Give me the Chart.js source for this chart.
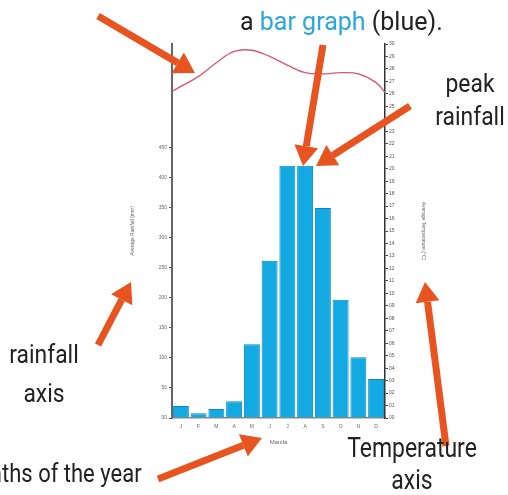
<!DOCTYPE html>
<html>
<head>
<meta charset="utf-8">
<script src="https://cdn.jsdelivr.net/npm/chart.js@4.4.0/dist/chart.umd.min.js"></script>
<style>
body { margin: 0; background: #fff; overflow: hidden; }
#wrap { position: relative; width: 508px; height: 495px; }
.note { position: absolute; font-family: Roboto, "Liberation Sans", Arial, sans-serif; color: #222; white-space: nowrap; text-align: center; }
</style>
</head>
<body>
<div id="wrap">
<canvas id="myChart" width="508" height="495"></canvas>
<div class="note" style="left:240px;top:9px;font-size:25px;line-height:25px;">a <span style="color:#2aa7de">bar graph</span> (blue).</div>
<div class="note" style="left:430px;top:67px;width:80px;font-size:26px;line-height:33px;transform:scaleX(0.88);">peak<br>rainfall</div>
<div class="note" style="left:4px;top:335px;width:80px;font-size:26px;line-height:39px;transform:scaleX(0.88);">rainfall<br>axis</div>
<div class="note" style="left:332px;top:432px;width:160px;font-size:28px;line-height:32px;transform:scaleX(0.82);">Temperature<br>axis</div>
<div class="note" style="right:366px;top:459px;font-size:25px;line-height:30px;text-align:right;transform:scaleX(0.88);transform-origin:right center;">months of the year</div>
</div>
<script>
// Manila climate
const months = ['J', 'F', 'M', 'A', 'M', 'J', 'J', 'A', 'S', 'O', 'N', 'D'];
const rainfall = [20, 8, 15, 28, 123, 262, 420, 420, 350, 197, 101, 65];
// temperature, from the left axis to the right axis
const tempX = [0, 0.5, 1.5, 2.5, 3.5, 4.5, 5.5, 6.5, 7.5, 8.5, 9.5, 10.5, 11.5, 12];
const temperature = [26.2, 26.6, 27.4, 28.5, 29.4, 29.5, 29.0, 28.3, 27.7, 27.6, 27.7, 27.6, 26.9, 26.1];
const rainTicks = [0, 50, 100, 150, 200, 250, 300, 350, 400, 450];

const arrows = [
	[98, 16, 195, 73],
	[323, 45, 303, 166],
	[410, 106, 316, 166],
	[98, 345, 131, 282],
	[158, 479, 262, 438],
	[446, 446, 425, 282]
];

const arrowPlugin = {
	id: 'arrows',
	afterDraw(chart) {
		const c = chart.ctx;
		c.save();
		c.strokeStyle = '#e8541f';
		c.fillStyle = '#e8541f';
		c.lineWidth = 7;
		arrows.forEach(function (a) {
			const ang = Math.atan2(a[3] - a[1], a[2] - a[0]);
			const hl = 20, hw = 12;
			const bx = a[2] - hl * Math.cos(ang), by = a[3] - hl * Math.sin(ang);
			c.beginPath();
			c.moveTo(a[0], a[1]);
			c.lineTo(bx, by);
			c.stroke();
			c.beginPath();
			c.moveTo(a[2], a[3]);
			c.lineTo(bx + hw * Math.sin(ang), by - hw * Math.cos(ang));
			c.lineTo(bx - hw * Math.sin(ang), by + hw * Math.cos(ang));
			c.closePath();
			c.fill();
		});
		c.restore();
	}
};

const tick = { size: 5, family: 'Arial' };

const ctx = document.getElementById('myChart').getContext('2d');
const myChart = new Chart(ctx, {
	type: 'bar',
	data: {
		labels: months,
		datasets: [{
			label: 'Rainfall',
			data: rainfall,
			backgroundColor: '#13aae4',
			borderColor: '#0b87bf',
			borderWidth: 1,
			grouped: false,
			barPercentage: 0.9,
			categoryPercentage: 1,
			yAxisID: 'y',
			order: 2
		},
		{
			type: 'line',
			label: 'Temperature',
			data: tempX.map(function (x, i) { return { x: x, y: temperature[i] }; }),
			borderColor: '#dc5670',
			borderWidth: 1.3,
			pointRadius: 0,
			tension: 0.4,
			xAxisID: 'x2',
			yAxisID: 'y2',
			order: 1
		}]
	},
	plugins: [arrowPlugin],
	options: {
		responsive: false,
		animation: false,
		layout: { padding: { left: 128, right: 80, top: 44, bottom: 47 } },
		plugins: { legend: { display: false }, tooltip: { enabled: false } },
		scales: {
			x: {
				offset: true,
				grid: { display: false, drawTicks: false },
				border: { color: '#888', width: 1.5 },
				ticks: { color: '#666', font: tick, padding: 6, maxRotation: 0 },
				title: { display: true, text: 'Manila', color: '#666', font: { size: 6, family: 'Arial' }, padding: 2 },
				afterFit: function (s) { s.height = 30; }
			},
			x2: { type: 'linear', display: false, offset: false, min: 0, max: 12 },
			y: {
				position: 'left',
				min: 0,
				max: 623,
				afterBuildTicks: function (s) { s.ticks = rainTicks.map(function (v) { return { value: v }; }); },
				grid: { drawOnChartArea: false, tickLength: 3, color: '#555' },
				border: { color: '#666', width: 2 },
				ticks: { color: '#666', font: tick, padding: 2, callback: function (v) { return v === 0 ? '00' : v; } },
				title: { display: true, text: 'Average Rainfall (mm)', color: '#666', font: { size: 5, family: 'Arial' }, padding: 2 },
				afterFit: function (s) { s.width = 44; }
			},
			y2: {
				position: 'right',
				min: 0,
				max: 30,
				ticks: { stepSize: 1, autoSkip: false, color: '#555', font: tick, padding: 1, callback: function (v) { return String(v).padStart(2, '0'); } },
				grid: { drawOnChartArea: false, tickLength: 3, color: '#444' },
				border: { color: '#333', width: 1.5 },
				title: { display: true, text: 'Average Temperature (°C)', color: '#666', font: { size: 5, family: 'Arial' }, padding: 2 },
				afterFit: function (s) { s.width = 43; }
			}
		}
	}
});
</script>
</body>
</html>
